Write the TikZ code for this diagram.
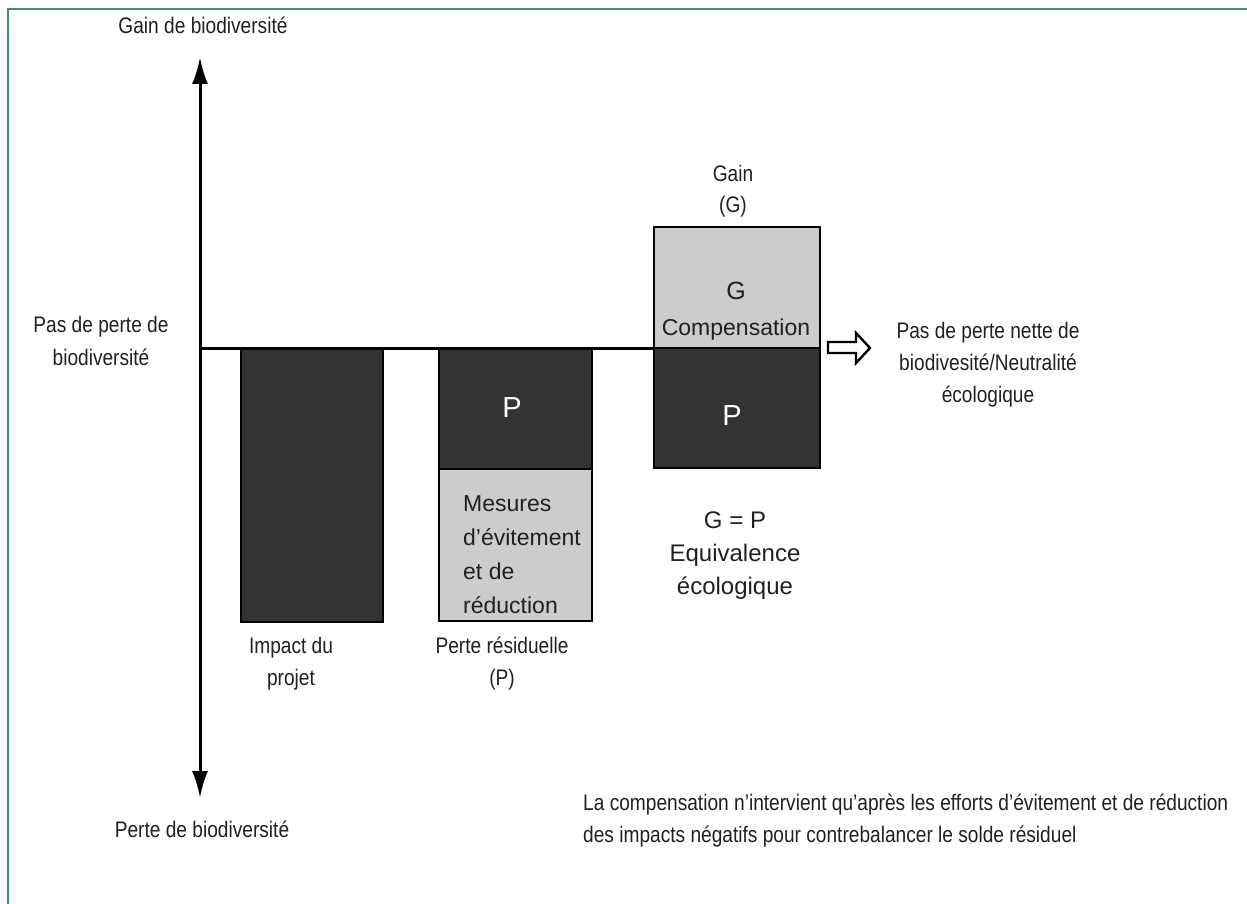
\documentclass[tikz,border=0pt]{standalone}
\usepackage{fontspec}
\setmainfont{Liberation Sans}
\newfontfamily\condfont[FakeStretch=0.85]{Liberation Sans}
\usetikzlibrary{arrows.meta}
\definecolor{framegreen}{RGB}{58,150,104}
\definecolor{darkfill}{RGB}{51,51,51}
\definecolor{lightfill}{RGB}{204,204,204}
\definecolor{txt}{RGB}{35,31,32}
\begin{document}
\begin{tikzpicture}[x=1pt,y=-1pt,
  lbl/.style={font=\condfont\fontsize{22.5}{32}\selectfont, text=txt, align=center, inner sep=0pt, anchor=base},
  inlbl/.style={font=\fontsize{23}{34}\selectfont, text=txt, inner sep=0pt, anchor=base},
  bigP/.style={font=\fontsize{29}{34}\selectfont, text=white, inner sep=0pt, anchor=base},
  darkbox/.style={draw=black, line width=2.8pt, fill=darkfill, anchor=north west, inner sep=0pt, outer sep=0pt},
  lightbox/.style={draw=black, line width=2.8pt, fill=lightfill, anchor=north west, inner sep=0pt, outer sep=0pt},
  axisline/.style={line width=3pt, {Latex[length=27pt,width=16pt]}-{Latex[length=27pt,width=16pt]}},
  zeroline/.style={line width=3pt},
  hollowarrow/.style={draw=black, line width=2.4pt, fill=white, line join=miter}
]
\useasboundingbox (0,0) rectangle (1247,904);
% frame
\draw[framegreen, line width=2pt] (8,904) -- (8,9) -- (1247,9);

% axis
\coordinate (axtop) at (200,57);
\coordinate (axbot) at (200,798);
\coordinate (origin) at (200,348);
\draw[axisline] (axbot) -- (axtop);

% boxes
\node[darkbox, minimum width=142, minimum height=274] (impact) at (241,348) {};
\node[darkbox, minimum width=153, minimum height=121] (resid) at (439,348) {};
\node[lightbox, minimum width=153, minimum height=152] (mesures) at (439,469) {};
\node[lightbox, minimum width=166, minimum height=121] (comp) at (654,227) {};
\node[darkbox, minimum width=166, minimum height=120] (compP) at (654,348) {};

% zero line
\draw[zeroline] (origin) -- (comp.south west);

% texts in boxes
\node[bigP] (Pone) at (512,417) {P};
\node[bigP] (Ptwo) at (732,425) {P};
\node[inlbl, font=\fontsize{25}{34}\selectfont] (Gin) at (736,299) {G};
\node[inlbl] (comptxt) at (736,335) {Compensation};
\node[inlbl, anchor=base west, align=left, font=\fontsize{23}{33.7}\selectfont] (mestxt) at (463,613) {Mesures\\d’évitement\\et de\\réduction};

% hollow arrow
\draw[hollowarrow] (828,342) -- (856,342) -- (856,333) -- (870,348) -- (856,363) -- (856,353) -- (828,353) -- cycle;

% labels (anchor=base -> baseline of the last line)
\node[lbl] (gainlbl) at (203,34) {Gain de biodiversité};
\node[lbl, font=\condfont\fontsize{22.5}{33}\selectfont] (nolosslbl) at (101,365) {Pas de perte de\\biodiversité};
\node[lbl] (pertelbl) at (202,837) {Perte de biodiversité};
\node[lbl] (impactlbl) at (291,685) {Impact du\\projet};
\node[lbl] (residlbl) at (502,685) {Perte résiduelle\\(P)};
\node[lbl] (gainGlbl) at (733,213) {Gain\\(G)};
\node[lbl] (netlbl) at (988,402) {Pas de perte nette de\\biodivesité/Neutralité\\écologique};
\node[inlbl, align=center, font=\fontsize{24}{33}\selectfont] (equiv) at (735,594) {G = P\\Equivalence\\écologique};
\node[lbl, anchor=base west, align=left] (note) at (583,842) {La compensation n’intervient qu’après les efforts d’évitement et de réduction\\des impacts négatifs pour contrebalancer le solde résiduel};
\end{tikzpicture}
\end{document}
